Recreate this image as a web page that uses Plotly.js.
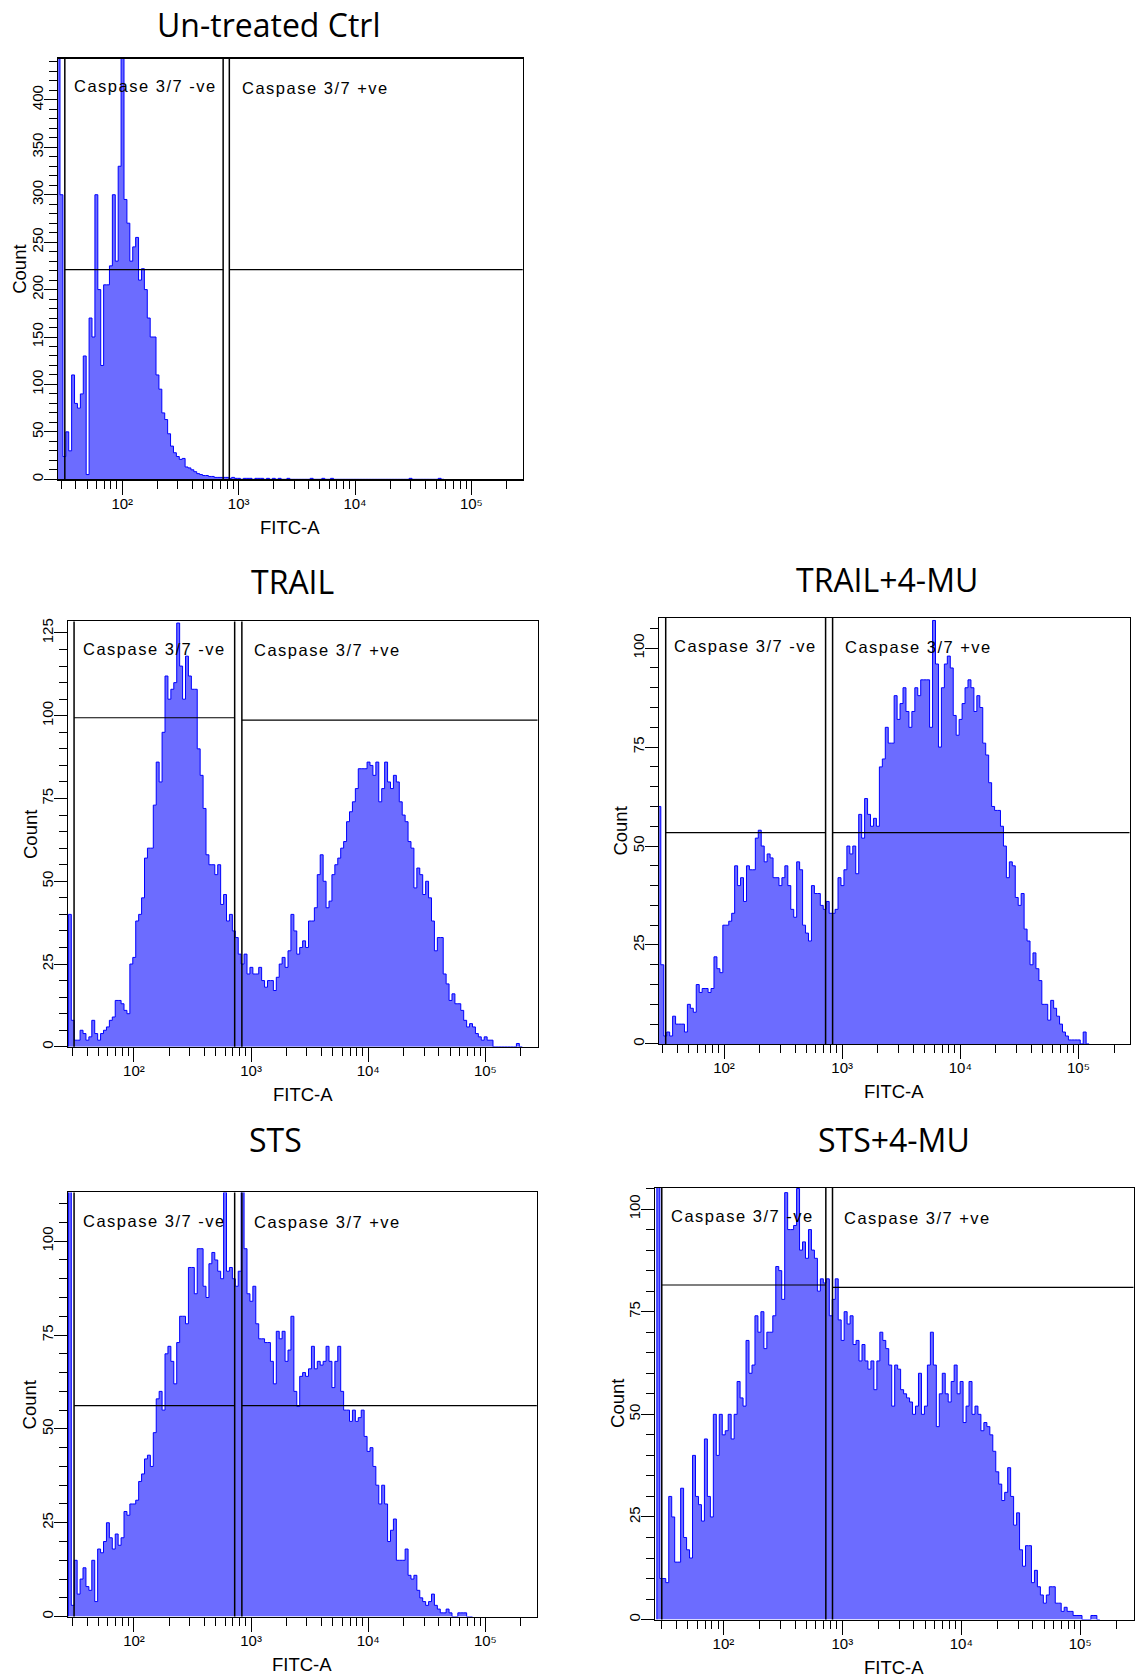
<!DOCTYPE html>
<html>
<head>
<meta charset="utf-8">
<script src="https://cdn.plot.ly/plotly-3.0.1.min.js"></script>
<style>
  html, body { margin: 0; padding: 0; background: #ffffff; }
  #chart { width: 1143px; height: 1679px; }
</style>
</head>
<body>
<div id="chart"></div>
<script>
// ---------------- DATA ----------------
// Histogram bins on a log10 FITC-A scale: bin i starts at 10^(binStartLog + i*binWidthLog)
const binStartLog = 1.44;
const binWidthLog = 0.025;

const panelTitles = ['Un-treated Ctrl', 'TRAIL', 'TRAIL+4-MU', 'STS', 'STS+4-MU'];
const gateNegLabel = 'Caspase 3/7 -ve';
const gatePosLabel = 'Caspase 3/7 +ve';
const xAxisLabel = 'FITC-A';
const yAxisLabel = 'Count';

const ctrlCounts = [
  460,300,24,50,30,110,80,75,90,130,
  5,170,150,300,200,120,205,205,225,300,
  230,330,460,295,270,230,245,255,210,222,
  200,170,150,150,110,95,70,63,48,35,
  28,24,21,22,13,12,10,8,6,5,
  4,4,3,3,2,2,2,2,2,1,
  2,1,1,0,1,1,1,0,1,1,
  1,0,1,0,1,0,1,0,0,1,
  0,0,0,0,0,0,0,1,0,0,
  0,1,0,0,1,0,0,0,0,0,
  0,0,0,0,0,0,0,0,0,0,
  0,0,0,0,0,0,0,0,0,0,
  0,1,0,0,0,0,0,0,0,0,
  0,1,0
];

const trailCounts = [
  40,8,2,2,5,4,2,3,8,4,
  2,4,5,6,8,9,14,14,13,11,
  10,25,27,38,40,45,57,60,60,73,
  86,80,95,112,105,108,110,128,115,105,
  118,112,108,108,90,82,72,58,55,55,
  52,55,43,46,38,40,35,33,28,25,
  28,22,24,22,22,24,20,18,20,20,
  17,21,25,27,24,29,40,35,28,30,
  32,30,38,38,42,52,58,50,42,44,
  52,55,57,60,62,68,71,74,78,84,
  84,84,86,85,82,86,74,78,86,80,
  78,82,80,74,70,68,62,60,48,54,
  52,46,50,45,38,29,33,33,22,19,
  14,16,13,13,11,8,6,7,6,4,
  3,2,3,2,2,0,0,0,0,0,
  0,0,0,1,0
];

const trail4muCounts = [
  60,20,2,3,2,7,5,5,5,3,
  10,9,8,15,13,14,14,13,14,22,
  19,18,30,30,31,33,45,40,42,36,
  45,44,44,52,54,50,46,48,47,42,
  42,40,42,45,40,34,32,46,44,30,
  28,26,40,38,38,35,34,36,33,33,
  34,42,40,44,50,48,50,43,58,52,
  62,58,55,57,55,70,72,80,76,76,
  88,82,86,90,84,80,84,90,88,92,
  92,92,80,107,96,75,90,96,98,95,
  83,78,82,86,90,92,90,84,88,85,
  76,73,66,60,59,59,55,50,42,46,
  45,37,35,38,29,26,20,23,19,16,
  10,10,6,11,9,7,5,3,2,1,
  1,1,1,0,3,0
];

const stsCounts = [
  120,3,15,6,10,13,8,7,15,4,
  18,17,20,25,21,18,22,19,21,28,
  27,30,30,31,36,38,42,43,40,49,
  58,60,55,70,72,68,62,73,80,80,
  78,93,93,86,98,98,88,85,94,97,
  95,92,90,113,92,93,90,88,92,115,
  98,86,84,88,78,74,74,73,73,68,
  62,76,74,76,68,71,80,60,56,64,
  65,64,66,72,66,68,67,68,72,68,
  61,68,72,60,55,55,52,55,52,53,
  55,48,44,45,40,35,30,35,30,20,
  23,26,15,15,15,18,11,10,11,7,
  5,4,3,4,6,3,2,1,1,2,
  1,0,0,1,1,1,0,0
];

const sts4muCounts = [
  110,10,10,9,30,25,14,14,32,20,
  17,15,40,30,28,24,44,30,25,50,
  40,50,45,46,50,44,50,58,54,52,
  68,60,62,74,70,75,66,70,70,74,
  86,85,78,104,95,95,96,105,90,92,
  88,95,90,88,80,83,82,83,74,78,
  83,73,68,75,72,74,67,68,63,67,
  63,61,63,56,63,70,68,66,62,52,
  62,61,56,55,54,53,50,52,60,50,
  52,62,70,62,47,55,60,55,53,58,
  62,55,58,48,52,58,50,52,50,46,
  48,47,45,41,36,33,29,31,37,30,
  23,26,17,13,18,18,9,12,8,6,
  4,6,8,8,4,4,2,3,2,2,
  1,1,1,0,0,0,1,1,0
];

// Gates (FITC-A values) and gate marker heights (counts)
const gateLow     = [32.1, 30.8, 32.1, 30.8, 30.3];
const gateNegHigh = [736, 724, 724, 724, 726];
const gatePosLow  = [832, 834, 830, 834, 826];
const gatePosHigh = [300000, 300000, 300000, 300000, 300000];
const gateNegY    = [221, 99.4, 53.4, 56.2, 81.5];
const gatePosY    = [221, 98.7, 53.4, 56.2, 80.9];

// Axis ticks
const xTickVals = [100, 1000, 10000, 100000];
const xTickText = ['10\u00B2', '10\u00B3', '10\u2074', '10\u2075'];
const xMinorVals = [20,30,40,50,60,70,80,90,
  200,300,400,500,600,700,800,900,
  2000,3000,4000,5000,6000,7000,8000,9000,
  20000,30000,40000,50000,60000,70000,80000,90000,
  200000];
const ctrlYTickVals = [0,50,100,150,200,250,300,350,400];
const ctrlYMinorVals = [10,20,30,40,60,70,80,90,110,120,130,140,160,170,180,190,
  210,220,230,240,260,270,280,290,310,320,330,340,360,370,380,390,410,420,430,440];
const yTickVals = [0,25,50,75,100,125];
const yMinorVals = [5,10,15,20,30,35,40,45,55,60,65,70,80,85,90,95,105,110,115,120];

// ---------------- LAYOUT (pixels) ----------------
const W = 1143, H = 1679;
const panels = [
  {counts: ctrlCounts,     L: 57.9,  R: 522.7,  T: 58.5,   B: 479.3,  xr: [1.447, 5.441], yr: [0, 443.6],
   yt: ctrlYTickVals, ym: ctrlYMinorVals, title: [268.6, 24.5], neg: [71.5, 86], pos: [240.3, 87.8]},
  {counts: trailCounts,    L: 67.9,  R: 537.5,  T: 621.4,  B: 1046.8, xr: [1.436, 5.445], yr: [0, 128.5],
   yt: yTickVals, ym: yMinorVals, title: [292, 581], neg: [81.4, 648.6], pos: [251.8, 650]},
  {counts: trail4muCounts, L: 658.8, R: 1129.5, T: 617.7,  B: 1043.9, xr: [1.448, 5.432], yr: [0, 107.7],
   yt: yTickVals, ym: yMinorVals, title: [887, 579], neg: [672.2, 645.7], pos: [843.2, 646.8]},
  {counts: stsCounts,      L: 67.9,  R: 536.8,  T: 1192.4, B: 1616.6, xr: [1.436, 5.439], yr: [0, 113],
   yt: yTickVals, ym: yMinorVals, title: [275, 1139.5], neg: [81.4, 1220.9], pos: [251.8, 1222.3]},
  {counts: sts4muCounts,   L: 655.3, R: 1133.5, T: 1187.7, B: 1619.6, xr: [1.427, 5.448], yr: [0, 105.2],
   yt: yTickVals, ym: yMinorVals, title: [894, 1139], neg: [669.3, 1216.3], pos: [842.2, 1218]}
];

const tickFont = {family: 'Liberation Sans Narrow, Arial Narrow, Liberation Sans, Arial, sans-serif', size: 15, color: '#000'};
const labelFont = {family: 'Liberation Sans, Arial, sans-serif', size: 16.5, color: '#000'};
const axisTitleFont = {family: 'Liberation Sans, Arial, sans-serif', size: 18.5, color: '#000'};
const titleFont = {family: 'Open Sans, Noto Sans, sans-serif', size: 32, color: '#000'};

const px = x => x / W;
const py = y => 1 - y / H;

const traces = [];
const layout = {
  width: W, height: H,
  margin: {l: 0, r: 0, t: 0, b: 0, pad: 0},
  paper_bgcolor: '#ffffff', plot_bgcolor: '#ffffff',
  showlegend: false,
  shapes: [], annotations: []
};

panels.forEach((p, k) => {
  const n = k + 1;
  const xa = 'x' + (n === 1 ? '' : n), ya = 'y' + (n === 1 ? '' : n);
  const xKey = 'xaxis' + (n === 1 ? '' : n), yKey = 'yaxis' + (n === 1 ? '' : n);

  // histogram as a filled step outline
  const xs = [], ys = [];
  const nb = p.counts.length;
  xs.push(Math.pow(10, binStartLog)); ys.push(0);
  for (let i = 0; i < nb; i++) {
    xs.push(Math.pow(10, binStartLog + binWidthLog * i));
    ys.push(p.counts[i]);
  }
  xs.push(Math.pow(10, binStartLog + binWidthLog * nb)); ys.push(0);
  traces.push({
    type: 'scatter', mode: 'lines', x: xs, y: ys, xaxis: xa, yaxis: ya,
    line: {shape: 'hv', color: '#0000ff', width: 1},
    fill: 'tozeroy', fillcolor: '#6c6cff', hoverinfo: 'skip'
  });

  layout[xKey] = {
    type: 'log', domain: [px(p.L), px(p.R)], range: p.xr, anchor: ya,
    showline: true, mirror: true, linecolor: '#000', linewidth: 1.2,
    ticks: 'outside', ticklen: 14, tickwidth: 1, tickcolor: '#000',
    tickmode: 'array', tickvals: xTickVals, ticktext: xTickText, tickfont: tickFont,
    ticklabelstandoff: -4,
    minor: {tickmode: 'array', tickvals: xMinorVals, ticks: 'outside', ticklen: 8, tickwidth: 1, tickcolor: '#000', showgrid: false},
    showgrid: false, zeroline: false, fixedrange: true
  };
  layout[yKey] = {
    domain: [py(p.B), py(p.T)], range: p.yr, anchor: xa,
    showline: true, mirror: true, linecolor: '#000', linewidth: 1.2,
    ticks: 'outside', ticklen: 13, tickwidth: 1, tickcolor: '#000',
    tickmode: 'array', tickvals: p.yt, tickangle: -90, tickfont: tickFont,
    ticklabelstandoff: -5,
    minor: {tickmode: 'array', tickvals: p.ym, ticks: 'outside', ticklen: 8, tickwidth: 1, tickcolor: '#000', showgrid: false},
    showgrid: false, zeroline: false, fixedrange: true
  };

  // gates
  const vline = xv => ({type: 'line', xref: xa, yref: ya + ' domain', x0: xv, x1: xv, y0: 0, y1: 1,
    line: {color: '#000', width: 1.5}, layer: 'above'});
  layout.shapes.push(vline(gateLow[k]), vline(gateNegHigh[k]), vline(gatePosLow[k]));
  layout.shapes.push({type: 'line', xref: xa, yref: ya, x0: gateLow[k], x1: gateNegHigh[k], y0: gateNegY[k], y1: gateNegY[k],
    line: {color: '#000', width: 1.2}, layer: 'above'});
  layout.shapes.push({type: 'line', xref: xa, yref: ya, x0: gatePosLow[k], x1: gatePosHigh[k], y0: gatePosY[k], y1: gatePosY[k],
    line: {color: '#000', width: 1.2}, layer: 'above'});

  // gate labels
  layout.annotations.push({text: gateNegLabel, xref: 'paper', yref: 'paper', x: px(p.neg[0]), y: py(p.neg[1]),
    xanchor: 'left', yanchor: 'middle', showarrow: false, font: labelFont});
  layout.annotations.push({text: gatePosLabel, xref: 'paper', yref: 'paper', x: px(p.pos[0]), y: py(p.pos[1]),
    xanchor: 'left', yanchor: 'middle', showarrow: false, font: labelFont});

  // axis titles
  layout.annotations.push({text: yAxisLabel, xref: 'paper', yref: 'paper', x: px(p.L - 38), y: py((p.T + p.B) / 2),
    xanchor: 'center', yanchor: 'middle', textangle: -90, showarrow: false, font: axisTitleFont});
  layout.annotations.push({text: xAxisLabel, xref: 'paper', yref: 'paper', x: px((p.L + p.R) / 2), y: py(p.B + 48),
    xanchor: 'center', yanchor: 'middle', showarrow: false, font: axisTitleFont});

  // panel title
  layout.annotations.push({text: panelTitles[k], xref: 'paper', yref: 'paper', x: px(p.title[0]), y: py(p.title[1]),
    xanchor: 'center', yanchor: 'middle', showarrow: false, font: titleFont});
});

Plotly.newPlot('chart', traces, layout, {staticPlot: true, displayModeBar: false}).then(() => {
  // widen the gate captions like the cytometer software does, keeping their left edge fixed
  document.querySelectorAll('.annotation-text').forEach(t => {
    if (t.textContent.indexOf('Caspase') === 0) {
      const before = t.getBBox();
      t.style.letterSpacing = '1.5px';
      const after = t.getBBox();
      t.setAttribute('transform', 'translate(' + (before.x - after.x) + ',0)');
    }
  });
});
</script>
</body>
</html>
